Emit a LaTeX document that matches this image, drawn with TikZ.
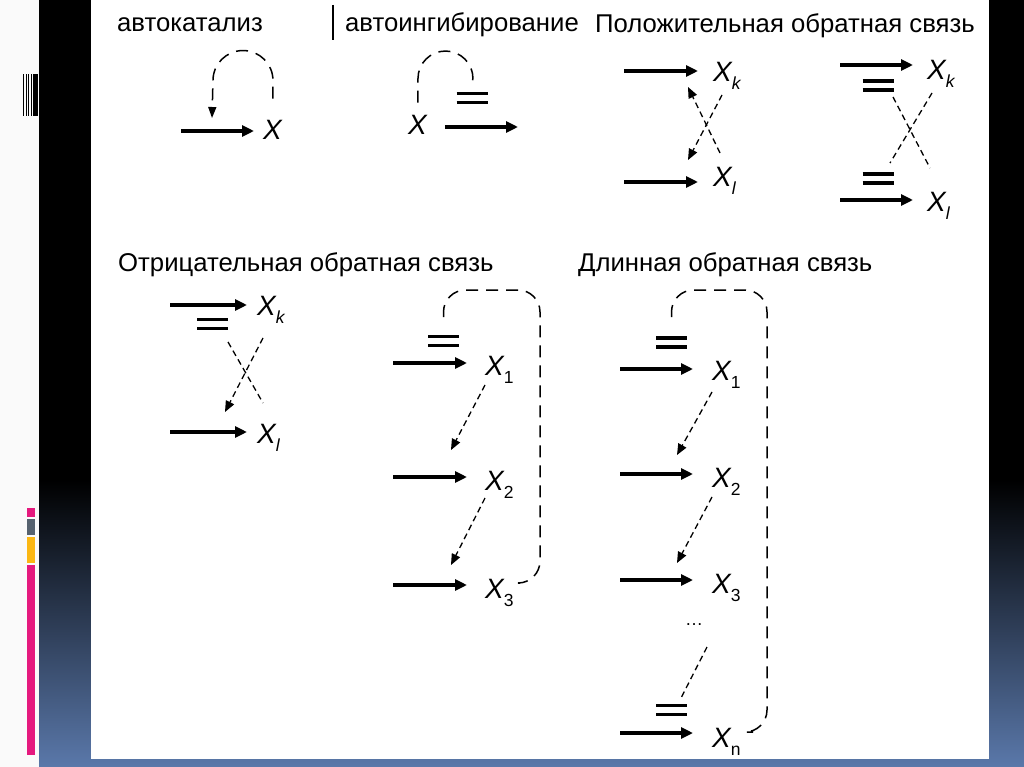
\documentclass[tikz,border=0pt]{standalone}
\usepackage{fontspec}
\setmainfont{Liberation Sans}
\usetikzlibrary{arrows.meta}
\definecolor{slideblue}{HTML}{5A78AA}
\definecolor{barpink}{HTML}{E5197E}
\definecolor{bargrey}{HTML}{56626F}
\definecolor{baryellow}{HTML}{FBB713}
\newcommand{\xlab}[1]{\textit{X}\kern-1pt\raisebox{-8pt}{\fontsize{17.5}{17.5}\selectfont #1}}
\newcommand{\inhib}[1]{\draw[inhbar] ([xshift=-15.5pt,yshift=4.5pt]#1) -- ++(31,0) ([xshift=-15.5pt,yshift=-4.5pt]#1) -- ++(31,0);}
\tikzset{
  heading/.style={anchor=base west, inner sep=0pt, font=\fontsize{25.7}{30}\selectfont},
  xnode/.style={anchor=base west, inner sep=0pt, font=\fontsize{28}{30}\selectfont},
  feed/.style={line width=3.2pt, -{Triangle[length=12pt,width=11pt]}},
  sig/.style={line width=1.3pt, dash pattern=on 6pt off 4pt, -{Triangle[length=11pt,width=9pt]}},
  xdash/.style={line width=1.3pt, dash pattern=on 6pt off 4pt},
  loopline/.style={line width=1.5pt, dash pattern=on 12pt off 8pt},
  sigloop/.style={loopline, -{Triangle[length=11pt,width=8pt]}},
  inhbar/.style={line width=3.2pt}
}
\begin{document}
\begin{tikzpicture}[x=1pt,y=-1pt]
\useasboundingbox (0,0) rectangle (1024,767);
% slide frame
\fill[white!98!black] (0,0) rectangle (39,767);
\fill[black] (39,0) rectangle (1024,480);
\shade[top color=black,bottom color=slideblue] (39,480) rectangle (1024,767);
\fill[white] (91,0) rectangle (989,759);
\foreach \a/\b in {22.5/23.5,25.5/27,28/29,30.5/32,33/38}
  \fill[black] (\a,74) rectangle (\b,116);
\fill[barpink] (27,508) rectangle (35,517);
\fill[bargrey] (27,519) rectangle (35,535);
\fill[baryellow] (27,537) rectangle (35,563);
\fill[barpink] (27,565) rectangle (35,755);

% headings
\node[heading] (tAuto) at (117,32) {автокатализ};
\node[heading] (tInh) at (345,32) {автоингибирование};
\node[heading] (tPos) at (595,33) {Положительная обратная связь};
\node[heading] (tNeg) at (118,271) {Отрицательная обратная связь};
\node[heading] (tLong) at (578,271) {Длинная обратная связь};
\draw[line width=1.5pt] (333,5) -- (333,40);

% autocatalysis
\node[xnode] (acX) at (263,140) {\textit{X}};
\coordinate (acIn) at (181,131);
\coordinate (acTip) at (212,118);
\draw[feed,shorten >=9pt] (acIn) -- (acIn -| acX.west);
\draw[sigloop] ([yshift=22pt]acX.north) -- ++(0,-18)
  arc[start angle=0,end angle=-180,radius=30] -- (acTip);

% autoinhibition
\node[xnode] (aiX) at (408,135) {\textit{X}};
\coordinate (aiBar) at (472,98);
\coordinate (aiOut) at (518,127);
\inhib{aiBar}
\draw[feed,shorten <=17pt] (aiOut -| aiX.east) -- (aiOut);
\draw[loopline] ([yshift=13pt]aiX.north) -- ++(0,-24)
  arc[start angle=180,end angle=360,radius=27.5] -- ([yshift=16pt]aiBar);

% positive feedback, activation
\node[xnode] (plK) at (713,82) {\xlab{\textit{k}}};
\node[xnode] (plL) at (713,187) {\xlab{\textit{l}}};
\coordinate (plInK) at (624,71);
\coordinate (plInL) at (624,182);
\coordinate (plTipK) at (688,87);
\coordinate (plTipL) at (688,160);
\draw[feed,shorten >=15pt] (plInK) -- (plInK -| plK.west);
\draw[feed,shorten >=15pt] (plInL) -- (plInL -| plL.west);
\draw[sig] ([xshift=9pt,yshift=-13pt]plK.base west) -- (plTipL);
\draw[sig] ([xshift=7pt,yshift=34pt]plL.base west) -- (plTipK);

% positive feedback, double inhibition
\node[xnode] (prK) at (927,80) {\xlab{\textit{k}}};
\node[xnode] (prL) at (927,212) {\xlab{\textit{l}}};
\coordinate (prInK) at (840,65);
\coordinate (prInL) at (840,200);
\coordinate (prBarK) at (878,85.5);
\coordinate (prBarL) at (878,178.5);
\inhib{prBarK}
\inhib{prBarL}
\draw[feed,shorten >=14pt] (prInK) -- (prInK -| prK.west);
\draw[feed,shorten >=14pt] (prInL) -- (prInL -| prL.west);
\draw[xdash] ([xshift=5pt,yshift=-13pt]prK.base west) -- ([xshift=12pt,yshift=15.5pt]prBarL);
\draw[xdash] ([xshift=15pt,yshift=-11.5pt]prBarK) -- ([xshift=3pt,yshift=44pt]prL.base west);

% negative feedback
\node[xnode] (ngK) at (257,315) {\xlab{\textit{k}}};
\node[xnode] (ngL) at (257,443) {\xlab{\textit{l}}};
\coordinate (ngInK) at (170,305);
\coordinate (ngInL) at (170,432);
\coordinate (ngBar) at (212.5,324);
\coordinate (ngTip) at (225,412);
\inhib{ngBar}
\draw[feed,shorten >=10pt] (ngInK) -- (ngInK -| ngK.west);
\draw[feed,shorten >=10pt] (ngInL) -- (ngInL -| ngL.west);
\draw[sig] ([xshift=6pt,yshift=-23pt]ngK.base west) -- (ngTip);
\draw[xdash] ([xshift=15.5pt,yshift=-18pt]ngBar) -- ([xshift=6pt,yshift=40pt]ngL.base west);

% negative feedback chain
\foreach \n/\y/\a in {1/375/363, 2/490/477, 3/598/585} {
  \node[xnode] (cX\n) at (485,\y) {\xlab{\n}};
  \coordinate (cIn\n) at (393,\a);
  \draw[feed,shorten >=18pt] (cIn\n) -- (cIn\n -| cX\n.west);
}
\coordinate (cBar) at (443.5,341);
\coordinate (cTip2) at (451,450);
\coordinate (cTip3) at (451,565);
\inhib{cBar}
\draw[sig] ([yshift=-10pt]cX1.base west) -- (cTip2);
\draw[sig] ([yshift=-8pt]cX2.base west) -- (cTip3);
\draw[loopline,rounded corners=22pt] ([yshift=24pt]cBar) -- ++(0,-27) -- ++(96.5,0)
  -- ++(0,293) [rounded corners=14pt] -- ++(-14,0);

% long feedback
\foreach \n/\y/\a in {1/380/369, 2/487/474, 3/593/580} {
  \node[xnode] (lX\n) at (712,\y) {\xlab{\n}};
  \coordinate (lIn\n) at (620,\a);
  \draw[feed,shorten >=19pt] (lIn\n) -- (lIn\n -| lX\n.west);
}
\node[xnode] (lXn) at (712,747) {\xlab{n}};
\coordinate (lInN) at (620,733);
\draw[feed,shorten >=19pt] (lInN) -- (lInN -| lXn.west);
\node[anchor=base,inner sep=0pt,font=\fontsize{18}{18}\selectfont] (lDots) at (694,625) {…};
\coordinate (lBar) at (671.5,342.5);
\coordinate (lBarN) at (671.5,710);
\coordinate (lTip2) at (677,455);
\coordinate (lTip3) at (677,563);
\inhib{lBar}
\inhib{lBarN}
\draw[sig] ([yshift=-12pt]lX1.base west) -- (lTip2);
\draw[sig] ([yshift=-10pt]lX2.base west) -- (lTip3);
\draw[xdash] ([xshift=13pt,yshift=-22pt]lDots.base) -- ([xshift=8.5pt,yshift=10pt]lBarN);
\draw[loopline,rounded corners=22pt] ([yshift=25.5pt]lBar) -- ++(0,-27) -- ++(95.5,0)
  -- ++(0,442) [rounded corners=14pt] -- ++(-14,0);
\end{tikzpicture}
\end{document}
